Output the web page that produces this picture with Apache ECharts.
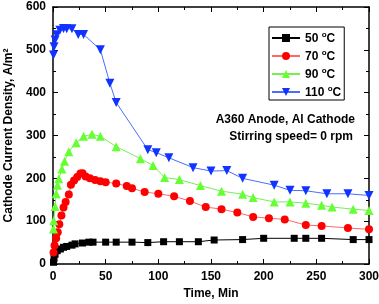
<!DOCTYPE html>
<html>
<head>
<meta charset="utf-8">
<script src="https://cdn.jsdelivr.net/npm/echarts@6/dist/echarts.min.js"></script>
<style>
  html, body { margin: 0; padding: 0; background: #fff; }
  #chart { width: 379px; height: 304px; }
</style>
</head>
<body>
<div id="chart"></div>
<script>
// 读图估计的数据 [时间 Min, 电流密度 A/m2]
const s50 = [[0.5,4],[1,13],[2,23],[4,31],[7,35],[10,39],[13,41],[18,44],[21,47],[28,49],[34,51],[38,51],[50,51],[60,51],[75,51],[90,50],[105,52],[120,52],[138,52],[153,56],[180,57],[200,60],[229,60],[240,60],[255,60],[285,57],[300,57]]
const s70 = [[0.5,27],[1.5,43],[3,60],[4.5,74],[6,93],[8,113],[10,132],[12,145],[15,162],[17,185],[20,195],[23,203],[26,211],[28,212],[31,204],[35,200],[40,196],[45,193],[50,191],[60,188],[70,182],[75,177],[87,168],[100,164],[115,158],[130,147],[145,133],[160,128],[175,120],[190,110],[205,107],[220,104],[240,91],[255,89],[280,84],[300,81]]
const s90 = [[0.5,82],[0.7,101],[2,134],[3,164],[4.3,184],[5.5,199],[8.5,222],[11,240],[15,262],[22,283],[29,298],[37,303],[45,298],[60,274],[83,246],[95,230],[106,202],[120,197],[140,183],[160,170],[180,163],[190,155],[210,145],[225,145],[240,142],[255,137],[265,133],[285,128],[300,125]]
const s110 = [[0.5,488],[1,507],[2,523],[3.5,535],[6.5,546],[10,550],[13,549],[18,549],[24,536],[29,536],[45,500],[54,422],[60,377],[90,267],[98,260],[110,248],[133,225],[150,217],[165,218],[180,200],[210,184],[225,172],[240,171],[260,164],[280,164],[300,160]]
const names = ['50', '70', '90', '110']
const lineColors = ['#000000', '#ff6666', '#77ee55', '#4a6cff']
const markColors = ['#000000', '#ff0000', '#66ff33', '#1133ff']

const font = 'Liberation Sans, Arial, sans-serif'
const chart = echarts.init(document.getElementById('chart'))

function mkSeries(i, data, symbol, size, rotate) {
  return {
    name: names[i],
    type: 'line',
    data: data,
    symbol: symbol,
    symbolSize: size,
    symbolRotate: rotate || 0,
    lineStyle: { width: 1, color: lineColors[i] },
    itemStyle: { color: markColors[i] },
    z: 2 + i,
  }
}

const axisCommon = {
  min: 0,
  axisLine: { show: true, onZero: false, lineStyle: { color: '#000', width: 1.5 } },
  axisTick: { show: true, inside: true, length: 5, lineStyle: { color: '#000', width: 1 } },
  minorTick: { show: true, splitNumber: 2, length: 3, lineStyle: { color: '#000' } },
  splitLine: { show: false },
}

const option = {
  animation: false,
  textStyle: { fontFamily: font },
  grid: { left: 53, right: 10, top: 7, bottom: 40, containLabel: false, outerBoundsMode: 'none' },
  legend: {
    orient: 'vertical',
    left: 269,
    top: 27,
    itemWidth: 28,
    itemHeight: 10,
    itemGap: 4,
    padding: [4, 3, 1, 2],
    borderColor: '#000',
    borderWidth: 1,
    backgroundColor: '#fff',
    data: names,
    formatter: function (n) { return '{n|' + n + ' }{s|o}{n|C}' },
    textStyle: {
      rich: {
        n: { fontFamily: font, fontWeight: 'bold', fontSize: 12, lineHeight: 14, color: '#000', verticalAlign: 'bottom' },
        s: { fontFamily: font, fontWeight: 'bold', fontSize: 8, lineHeight: 8, color: '#000', verticalAlign: 'top' },
      },
    },
  },
  xAxis: [
    Object.assign({}, axisCommon, {
      type: 'value', max: 300, interval: 50,
      name: 'Time, Min', nameLocation: 'middle', nameGap: 21,
      nameTextStyle: { fontFamily: font, fontWeight: 'bold', fontSize: 12, color: '#000' },
      axisLabel: { fontFamily: font, fontWeight: 'bold', fontSize: 12, color: '#000', margin: 7 },
    }),
    Object.assign({}, axisCommon, {
      type: 'value', max: 300, interval: 50, position: 'top',
      axisLabel: { show: false },
    }),
  ],
  yAxis: [
    Object.assign({}, axisCommon, {
      type: 'value', max: 600, interval: 100,
      name: 'Cathode Current Density, A/m²', nameLocation: 'middle', nameGap: 33,
      nameTextStyle: { fontFamily: font, fontWeight: 'bold', fontSize: 12, color: '#000' },
      axisLabel: { fontFamily: font, fontWeight: 'bold', fontSize: 12, color: '#000', margin: 7 },
    }),
    Object.assign({}, axisCommon, {
      type: 'value', max: 600, interval: 100, position: 'right',
      axisLabel: { show: false },
    }),
  ],
  graphic: [
    {
      type: 'text', right: 24, top: 114,
      style: { text: 'A360 Anode, Al Cathode', font: 'bold 12px ' + font, fill: '#000', textAlign: 'right' },
    },
    {
      type: 'text', right: 26, top: 131,
      style: { text: 'Stirring speed= 0 rpm', font: 'bold 12px ' + font, fill: '#000', textAlign: 'right' },
    },
  ],
  series: [
    mkSeries(0, s50, 'rect', 7),
    mkSeries(1, s70, 'circle', 8),
    mkSeries(2, s90, 'triangle', 9),
    mkSeries(3, s110, 'triangle', 9, 180),
  ],
}

chart.setOption(option, true)
</script>
</body>
</html>
